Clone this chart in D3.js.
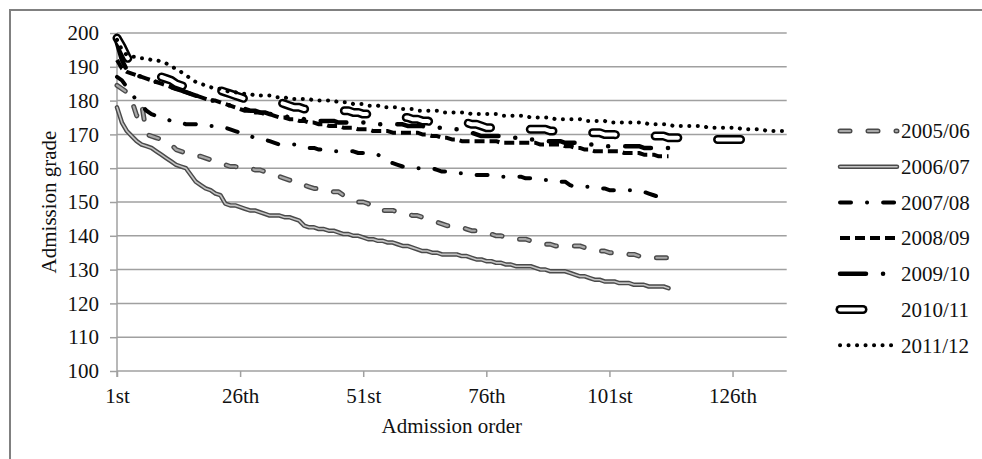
<!DOCTYPE html>
<html><head><meta charset="utf-8">
<script src="https://cdn.jsdelivr.net/npm/d3@7"></script>
<style>
html,body{margin:0;padding:0;background:#fff;}
svg text{font-family:"Liberation Serif","Times New Roman",serif;fill:#111;}
</style></head>
<body><svg id="c" width="982" height="459"></svg>
<script>
// ---- data ----
const seriesNames = ["2005/06","2006/07","2007/08","2008/09","2009/10","2010/11","2011/12"];
const s0506 = [184.5,183.5,182.5,180,175.5,179,170,169.5,169,168.5,
168,167,165.5,165,164.5,164,163.5,163.5,163,162.5,
162,161.5,161,160.5,160.5,160,160,160,159.5,159.5,
159,158.5,158,157.5,157,156.5,156,156,155,154.5,
154,154,153.5,153.5,153,153,152,151,150.5,150,
150,149.5,148.5,147.5,147.5,147.5,147.5,147,147,146.5,
146,146,145.5,145,144.5,144,143.5,143,143,143,
142.5,142,141.5,141.5,141.5,141,140.5,140,140,139.5,
139.5,139,139,139,138.5,138,137.5,137.5,137.5,137,
137,137,137,137,137,136.5,136,136,135.5,135.5,
135,135,135,135,134.5,134.5,134,134,133.5,133.5,
133.5,133.5,133.5];
const s0607 = [178,173.5,171,169.5,168,167,166.5,166,165,164,
163,162,161,160.5,160,158,156,155,154,153.5,
152.5,152,149.5,149,149,148.5,148,147.5,147.5,147,
146.5,146,146,146,145.5,145.5,145,144.5,143,142.5,
142.5,142,142,141.5,141.5,141,140.5,140.5,140,140,
139.5,139,139,138.5,138.5,138,138,137.5,137,137,
136.5,136,135.5,135.5,135,135,134.5,134.5,134.5,134.5,
134,134,133.5,133,133,132.5,132.5,132,132,131.5,
131.5,131,131,131,131,130.5,130,130,129.5,129.5,
129.5,129.5,129,128.5,128,128,127.5,127,127,126.5,
126.5,126.5,126,126,126,125.5,125.5,125.5,125,125,
125,125,124.5];
const s0708 = [187,186,184,182,180,178.5,177,176,175.5,175,
174.5,174,173.5,173.5,173,173,173,172.5,172.5,172.5,
172.5,172.5,172,171.5,171,170.5,169.5,169.5,169,169,
168.5,168,167.5,167,167,167,167,166.5,166.5,166,
166,165.5,165.5,165,165,165,165,165,165,164.5,
164.5,164,164,164,163,162,161.5,161,160.5,160.5,
160.5,160,160,160,160,159.5,159,159,159,158.5,
158.5,158.5,158,158,158,158,158,158,157.5,157.5,
157.5,157.5,157.5,157,157,157,156.5,156.5,156.5,156,
156,156,155,154.5,154.5,154.5,154.5,154,154,154,
153.5,153.5,153.5,153.5,153.5,153.5,153.5,153,152.5,152,
151.5,151,151];
const s0809 = [192,189.5,188.5,188,187.5,187,186.5,186,185.5,185,
184.5,184,183.5,183,182.5,182,181.5,181,180.5,180,
180,179.5,179,178.5,178,177.5,177,177,176.5,176.5,
176,176,175.5,175,175,174.5,174.5,174,174,173.5,
173.5,173,173,172.5,172.5,172.5,172,172,172,171.5,
171.5,171.5,171,171,171,171,170.5,170.5,170.5,170.5,
170.5,170.5,170,170,169.5,169.5,169,169,168.5,168.5,
168,168,168,168,168,168,168,168,167.5,167.5,
167.5,167.5,167.5,167.5,167.5,167.5,167,167,167,167,
167,166.5,166.5,166,166,165.5,165.5,165,165,165,
165,165,165,164.5,164.5,164.5,164.5,164,164,164,
163.5,163.5,163.5];
const s0910 = [197,192,189,188,187.5,187,186.5,186,185.5,185,
184.5,184,183.5,183,182.5,182,181.5,181,180.5,180,
180,179.5,179,178.5,178.5,178,177.5,177,177,176.5,
176.5,176,176,175.5,175.5,175,175,175,174.5,174.5,
174.5,174,174,174,174,173.5,173.5,173.5,173.5,173.5,
173.5,173.5,173,173,173,173,173,173,173,172.5,
172.5,172.5,172.5,172,172,172,172,172,171.5,171.5,
171.5,171,170.5,170,169.5,169.5,169.5,169.5,169.5,169,
169,169,168.5,168.5,168.5,168.5,168.5,168,168,168,
168,167.5,167.5,167.5,167,167,167,167,166.5,166.5,
166.5,166.5,166.5,166.5,166.5,166.5,166.5,166,166,166,
166,166,166];
const s1011 = [198.5,196,193,190.5,189.5,189,188.5,188,187.5,187,
186.5,186,185,184.5,184,183.5,183.5,183.5,183.5,183.5,
183,183,182.5,182,181.5,181,180.5,180.5,180,180,
180,179.5,179.5,179.5,179,178.5,178,178,177.5,177.5,
177.5,177.5,177.5,177.5,177,177,177,177,176.5,176.5,
176,176,175.5,175.5,175.5,175.5,175,175,175,175,
174.5,174.5,174,174,173.5,173.5,173.5,173.5,173.5,173.5,
173.5,173.5,173,173,172.5,172,172,171.5,171.5,171.5,
171.5,171.5,171.5,171.5,171.5,171.5,171.5,171.5,171,171,
171,171,171,170.5,170.5,170.5,170.5,170.5,170.5,170,
170,170,169.5,169.5,169.5,169.5,169.5,169.5,169.5,169.5,
169.5,169.5,169,169,169,168.5,168.5,168.5,168.5,168.5,
168.5,168.5,168.5,168.5,168.5,168.5,168.5,168.5,168,168,
168];
const s1112 = [198,195,193.5,193,193,192.5,192.5,192,192,191.5,
191,190,189.5,188.5,187.5,186.5,185.5,185,184.5,184,
183.5,183.5,183,182.5,182.5,182,182,182,181.5,181.5,
181.5,181.5,181,181,181,180.5,180.5,180.5,180.5,180.5,
180,180,180,180,180,179.5,179.5,179.5,179,179,
179,178.5,178.5,178.5,178,178,178,178,177.5,177.5,
177.5,177,177,177,177,177,176.5,176.5,176.5,176.5,
176.5,176.5,176,176,176,176,176,176,175.5,175.5,
175.5,175.5,175.5,175.5,175,175,175,175,175,174.5,
174.5,174.5,174.5,174.5,174.5,174,174,174,174,174,
173.5,173.5,173.5,173.5,173.5,173.5,173.5,173.5,173,173,
173,173,173,172.5,172.5,172.5,172.5,172.5,172.5,172.5,
172,172,172,172,172,172,172,171.5,171.5,171.5,
171.5,171.5,171,171,171,171,171];
const seriesValues = [s0506, s0607, s0708, s0809, s0910, s1011, s1112];
const categoryCount = 137;
const xTickValues = [1, 26, 51, 76, 101, 126];
const xTickLabels = ["1st", "26th", "51st", "76th", "101st", "126th"];
const yTickValues = [100,110,120,130,140,150,160,170,180,190,200];
const xTitle = "Admission order";
const yTitle = "Admission grade";

// ---- styles (layers drawn bottom to top) ----
const styles = [
  [{stroke:"#4a4a4a", w:5, dash:"10,18", cap:"round"}, {stroke:"#a8a8a8", w:2.2, dash:"10,18", cap:"round"}],
  [{stroke:"#4a4a4a", w:4.5, dash:null, cap:"round"}, {stroke:"#c4c4c4", w:1.6, dash:null, cap:"round"}],
  [{stroke:"#000", w:4, dash:"11,16,0.1,16", cap:"round"}],
  [{stroke:"#000", w:4, dash:"10,5", cap:"butt"}],
  [{stroke:"#000", w:4.5, dash:"26,17,0.1,17,0.1,17", cap:"round"}],
  [{stroke:"#000", w:9, dash:"23,40", cap:"round"}, {stroke:"#fff", w:4, dash:"23,40", cap:"round"}],
  [{stroke:"#000", w:4, dash:"0.1,8.4", cap:"round"}]
];

const svg = d3.select("#c");
svg.append("rect").attr("x",0).attr("y",0).attr("width",982).attr("height",459).attr("fill","#fff");
svg.append("rect").attr("x",10).attr("y",10).attr("width",1000).attr("height",480)
   .attr("fill","none").attr("stroke","#808080").attr("stroke-width",2);

const L = 117, R = 786.7, T = 33, B = 371;
const categories = d3.range(1, categoryCount + 1);
const x = d3.scalePoint().domain(categories).range([L, R]).padding(0);
const y = d3.scaleLinear().domain([100, 200]).range([B, T]);

// gridlines
svg.append("g").selectAll("line").data(yTickValues).join("line")
  .attr("x1", L).attr("x2", R).attr("y1", d => y(d)).attr("y2", d => y(d))
  .attr("stroke", "#a0a0a0").attr("stroke-width", 1.5);

// y axis
const yAxis = svg.append("g").attr("transform", `translate(${L},0)`)
  .call(d3.axisLeft(y).tickValues(yTickValues).tickSize(7).tickPadding(11).tickFormat(d3.format("d")));
yAxis.select(".domain").remove();
yAxis.selectAll(".tick line").attr("stroke", "#a0a0a0").attr("stroke-width", 1.5);
yAxis.selectAll(".tick text").attr("font-size", 21).attr("font-family", "Liberation Serif").attr("fill", "#111");
svg.append("line").attr("x1", L).attr("x2", L).attr("y1", T).attr("y2", B + 6)
  .attr("stroke", "#a0a0a0").attr("stroke-width", 1.5);

// x axis
const xAxis = svg.append("g").attr("transform", `translate(0,${B})`)
  .call(d3.axisBottom(x).tickValues(xTickValues).tickSize(6).tickPadding(11)
        .tickFormat(d => xTickLabels[xTickValues.indexOf(d)]));
xAxis.select(".domain").remove();
xAxis.selectAll(".tick line").attr("stroke", "#a0a0a0").attr("stroke-width", 1.5);
xAxis.selectAll(".tick text").attr("font-size", 21).attr("font-family", "Liberation Serif").attr("fill", "#111");

// titles
svg.append("text").attr("x", (L + R) / 2).attr("y", 433).attr("text-anchor", "middle")
  .attr("font-size", 21).text(xTitle);
svg.append("text").attr("transform", `translate(56,${(T + B) / 2}) rotate(-90)`)
  .attr("text-anchor", "middle").attr("font-size", 21).text(yTitle);

// lines
const line = d3.line().x((d, i) => x(i + 1)).y(d => y(d));
seriesValues.forEach((vals, k) => {
  styles[k].forEach(st => {
    svg.append("path").datum(vals).attr("d", line).attr("fill", "none")
      .attr("stroke", st.stroke).attr("stroke-width", st.w)
      .attr("stroke-dasharray", st.dash).attr("stroke-linecap", st.cap)
      .attr("stroke-linejoin", "round");
  });
});

// legend
const legY0 = 131, legStep = 35.7;
seriesNames.forEach((name, k) => {
  const yy = legY0 + k * legStep;
  styles[k].forEach(st => {
    svg.append("line").attr("x1", 840).attr("x2", 897).attr("y1", yy).attr("y2", yy)
      .attr("stroke", st.stroke).attr("stroke-width", st.w)
      .attr("stroke-dasharray", st.dash).attr("stroke-linecap", st.cap);
  });
  svg.append("text").attr("x", 901).attr("y", yy).attr("dy", "0.35em")
    .attr("font-size", 21).text(name);
});
</script></body></html>
